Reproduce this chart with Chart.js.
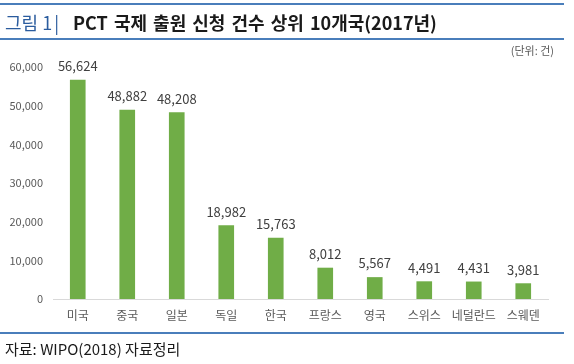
<!DOCTYPE html>
<html>
<head>
<meta charset="utf-8">
<script src="https://cdn.jsdelivr.net/npm/chart.js@4"></script>
<style>
  html, body { margin: 0; padding: 0; background: #fff; }
  #wrap { position: relative; width: 574px; height: 364px; overflow: hidden; font-family: "Noto Sans CJK KR", "Noto Sans", sans-serif; }
  canvas { position: absolute; left: 0; top: 0; }
  .line { position: absolute; left: 0; width: 564px; height: 0; border-top: 2px solid #4a7ebb; }
  #title { position: absolute; left: 5px; top: 9px; font-size: 18px; line-height: 26px; white-space: nowrap; color: #1a1a1a; }
  #title .fig { color: #2b5c9e; font-weight: normal; }
  #title .bar { color: #2b5c9e; font-weight: normal; margin: 0 14px 0 2px; }
  #title .main { font-weight: bold; word-spacing: 2px; }
  #unit { position: absolute; right: 20px; top: 42px; font-size: 11px; color: #595959; white-space: nowrap; }
  #source { position: absolute; left: 5px; top: 339px; font-size: 15px; line-height: 20px; color: #1a1a1a; white-space: nowrap; }
</style>
</head>
<body>
<div id="wrap">
  <canvas id="c" width="574" height="364"></canvas>
  <div class="line" style="top:3px"></div>
  <div id="title"><span class="fig">그림 1</span><span class="bar">|</span><span class="main">PCT 국제 출원 신청 건수 상위 10개국(2017년)</span></div>
  <div class="line" style="top:38px"></div>
  <div id="unit">(단위: 건)</div>
  <div class="line" style="top:332px"></div>
  <div id="source">자료: WIPO(2018) 자료정리</div>
</div>
<script>
const categories = ["미국", "중국", "일본", "독일", "한국", "프랑스", "영국", "스위스", "네덜란드", "스웨덴"];
const applications = [56624, 48882, 48208, 18982, 15763, 8012, 5567, 4491, 4431, 3981];
const yTicks = [0, 10000, 20000, 30000, 40000, 50000, 60000];

const fmt = v => Number(v).toLocaleString('en-US');

const valueLabels = {
  id: 'valueLabels',
  afterDatasetsDraw(chart) {
    const ctx = chart.ctx;
    const meta = chart.getDatasetMeta(0);
    ctx.save();
    ctx.font = '13px "Noto Sans CJK KR", "Noto Sans", sans-serif';
    ctx.fillStyle = '#404040';
    ctx.textAlign = 'center';
    ctx.textBaseline = 'middle';
    meta.data.forEach((bar, i) => {
      ctx.fillText(fmt(applications[i]), bar.x, bar.y - 14);
    });
    ctx.restore();
  }
};

Chart.defaults.font.family = '"Noto Sans CJK KR", "Noto Sans", sans-serif';

new Chart(document.getElementById('c'), {
  type: 'bar',
  data: {
    labels: categories,
    datasets: [{
      data: applications,
      backgroundColor: '#70ad47',
      barThickness: 15
    }]
  },
  options: {
    responsive: false,
    animation: false,
    layout: { padding: { top: 67, right: 26, bottom: 0, left: 0 } },
    plugins: { legend: { display: false }, tooltip: { enabled: false }, title: { display: false } },
    scales: {
      x: {
        grid: { display: false, drawTicks: false },
        border: { display: true, color: '#d9d9d9', width: 1 },
        ticks: { color: '#595959', font: { size: 12 }, padding: 9, maxRotation: 0 },
        afterFit(scale) { scale.height = 65; }
      },
      y: {
        min: 0,
        max: 60000,
        afterBuildTicks(scale) { scale.ticks = yTicks.map(v => ({ value: v })); },
        grid: { display: false, drawTicks: false },
        border: { display: false },
        ticks: { color: '#595959', font: { size: 11 }, padding: 10, callback: v => fmt(v) },
        afterFit(scale) { scale.width = 53; }
      }
    }
  },
  plugins: [valueLabels]
});
</script>
</body>
</html>
